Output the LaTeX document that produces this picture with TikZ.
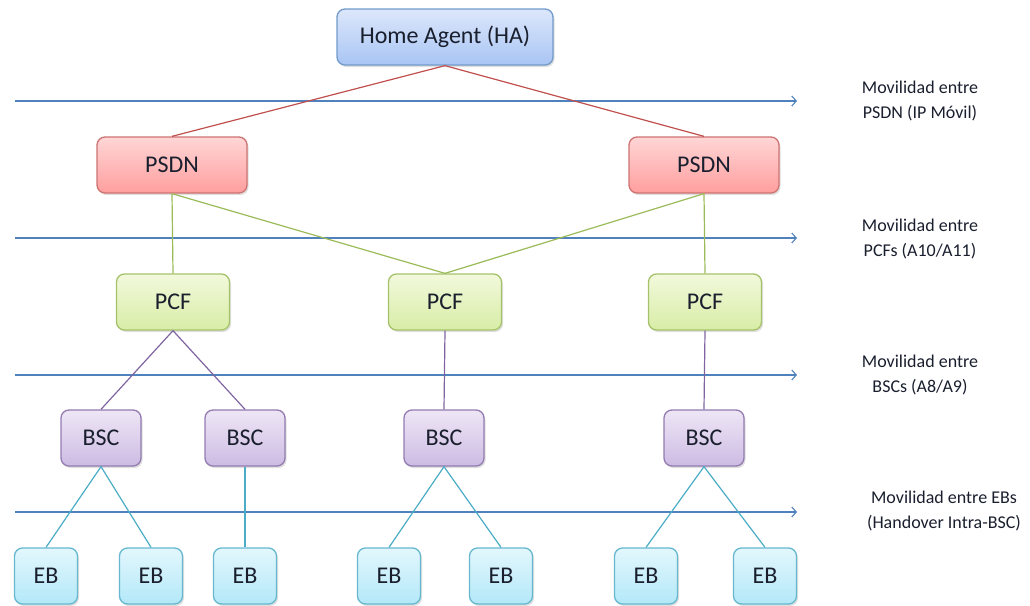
\documentclass[tikz,border=0pt]{standalone}
\usepackage{fontspec}
\setmainfont{Carlito}
\usetikzlibrary{arrows.meta,shadows}

\definecolor{txtdark}{HTML}{1A1F2E}
\definecolor{arrowblue}{HTML}{4F81BD}
\definecolor{linered}{HTML}{C0504D}
\definecolor{linegreen}{HTML}{9BBB59}
\definecolor{linepurple}{HTML}{8064A2}
\definecolor{linecyan}{HTML}{4BACC6}
\definecolor{hatop}{HTML}{DCE7FB}
\definecolor{habot}{HTML}{A9C5F4}
\definecolor{psdntop}{HTML}{FFD6D6}
\definecolor{psdnbot}{HTML}{FF9E9E}
\definecolor{pcftop}{HTML}{F2F9DC}
\definecolor{pcfbot}{HTML}{D8EDA6}
\definecolor{bsctop}{HTML}{EEE6F6}
\definecolor{bscbot}{HTML}{CDBBE3}
\definecolor{ebtop}{HTML}{E3F7FD}
\definecolor{ebbot}{HTML}{B3E8F8}

\begin{document}
\begin{tikzpicture}[x=1pt, y=-1pt,
    box/.style={rounded corners=8pt, line width=1.3pt, text=txtdark,
        font=\fontsize{24}{28}\selectfont, minimum height=56pt,
        drop shadow={shadow xshift=1.5pt, shadow yshift=-2pt, opacity=0.25}},
    hanode/.style={box, draw=arrowblue!80, top color=hatop, bottom color=habot, minimum width=216pt},
    psdnnode/.style={box, draw=linered!80, top color=psdntop, bottom color=psdnbot, minimum width=150pt},
    pcfnode/.style={box, draw=linegreen!90, top color=pcftop, bottom color=pcfbot, minimum width=113pt},
    bscnode/.style={box, draw=linepurple!85, top color=bsctop, bottom color=bscbot, minimum width=80pt},
    ebnode/.style={box, draw=linecyan!85, top color=ebtop, bottom color=ebbot, minimum width=63pt},
    level/.style={arrowblue, line width=1.1pt, -{Straight Barb[length=4.5pt,width=10pt]}},
    levellabel/.style={text=txtdark, align=center, font=\fontsize{18}{25}\selectfont},
    link/.style={line width=1.2pt}]

    \useasboundingbox (0,0) rectangle (1030,605);

    % mobility levels
    \coordinate (l1a) at (15,101);  \coordinate (l1b) at (797,101);
    \coordinate (l2a) at (15,238);  \coordinate (l2b) at (797,238);
    \coordinate (l3a) at (15,375);  \coordinate (l3b) at (797,375);
    \coordinate (l4a) at (15,512);  \coordinate (l4b) at (797,512);
    \draw[level] (l1a) -- (l1b);
    \draw[level] (l2a) -- (l2b);
    \draw[level] (l3a) -- (l3b);
    \draw[level] (l4a) -- (l4b);

    \node[levellabel] (lab1) at (920,101) {Movilidad entre\\PSDN (IP Móvil)};
    \node[levellabel] (lab2) at (920,239) {Movilidad entre\\PCFs (A10/A11)};
    \node[levellabel] (lab3) at (920,375) {Movilidad entre\\BSCs (A8/A9)};
    \node[levellabel] (lab4) at (944,511) {Movilidad entre EBs\\(Handover Intra-BSC)};

    % nodes
    \node[hanode] (ha) at (445,37) {Home Agent (HA)};

    \node[psdnnode] (psdn1) at (172,165) {PSDN};
    \node[psdnnode] (psdn2) at (704,165) {PSDN};

    \node[pcfnode] (pcf1) at (173,302) {PCF};
    \node[pcfnode] (pcf2) at (445,302) {PCF};
    \node[pcfnode] (pcf3) at (705,302) {PCF};

    \node[bscnode] (bsc1) at (101,438) {BSC};
    \node[bscnode] (bsc2) at (245,438) {BSC};
    \node[bscnode] (bsc3) at (444,438) {BSC};
    \node[bscnode] (bsc4) at (704,438) {BSC};

    \node[ebnode] (eb1) at (46,576) {EB};
    \node[ebnode] (eb2) at (151,576) {EB};
    \node[ebnode] (eb3) at (245,576) {EB};
    \node[ebnode] (eb4) at (389,576) {EB};
    \node[ebnode] (eb5) at (501,576) {EB};
    \node[ebnode] (eb6) at (646,576) {EB};
    \node[ebnode] (eb7) at (765,576) {EB};

    % links
    \draw[link, linered] (psdn1.north) -- (ha.south) -- (psdn2.north);

    \draw[link, linegreen] (psdn1.south) -- (pcf1.north);
    \draw[link, linegreen] (psdn1.south) -- (pcf2.north);
    \draw[link, linegreen] (psdn2.south) -- (pcf2.north);
    \draw[link, linegreen] (psdn2.south) -- (pcf3.north);

    \draw[link, linepurple] (bsc1.north) -- (pcf1.south) -- (bsc2.north);
    \draw[link, linepurple] (pcf2.south) -- (bsc3.north);
    \draw[link, linepurple] (pcf3.south) -- (bsc4.north);

    \draw[link, linecyan] (eb1.north) -- (bsc1.south) -- (eb2.north);
    \draw[link, linecyan] (bsc2.south) -- (eb3.north);
    \draw[link, linecyan] (eb4.north) -- (bsc3.south) -- (eb5.north);
    \draw[link, linecyan] (eb6.north) -- (bsc4.south) -- (eb7.north);
\end{tikzpicture}
\end{document}
